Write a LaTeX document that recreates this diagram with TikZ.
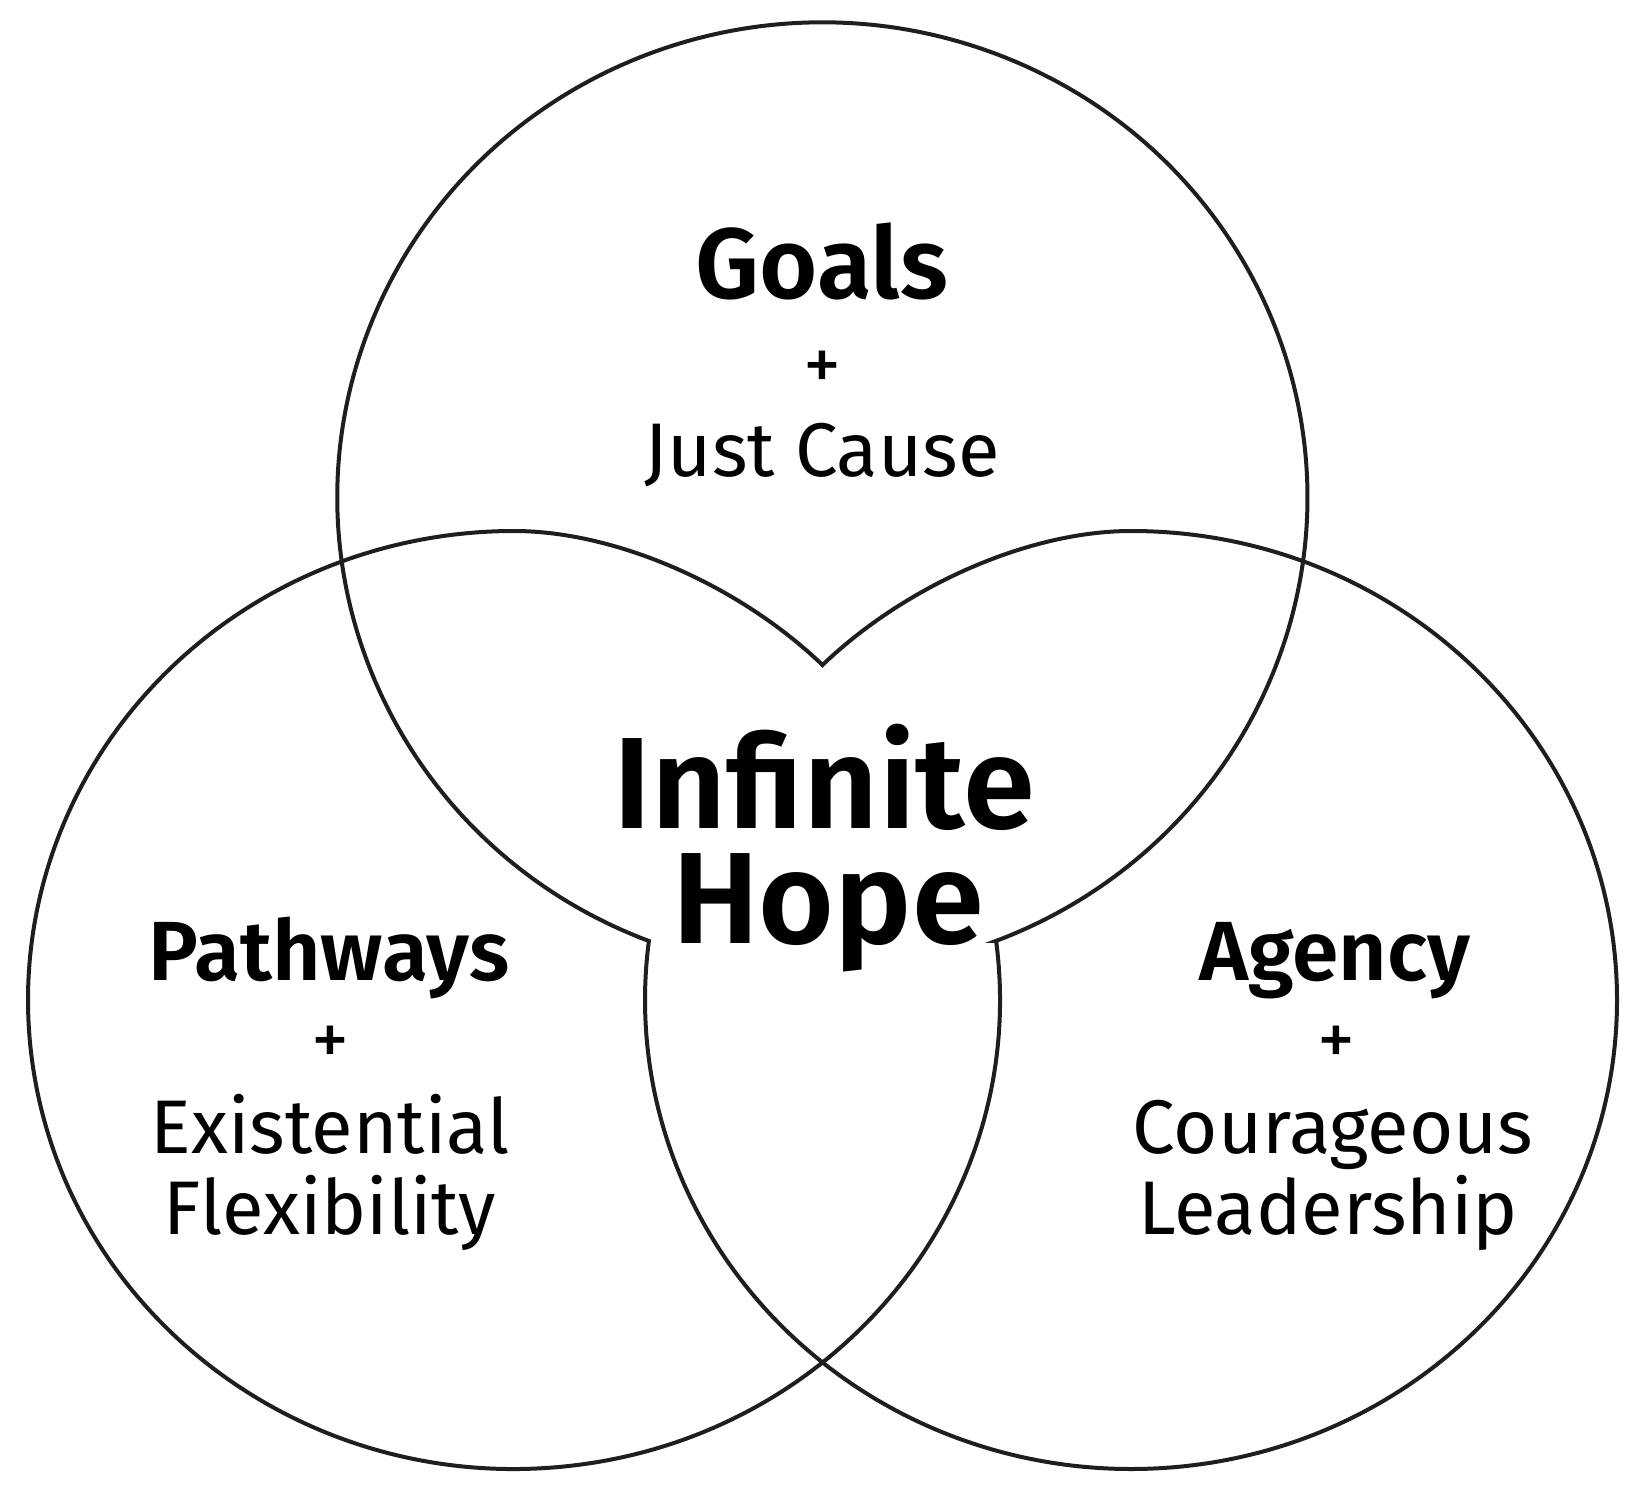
\documentclass[tikz,border=0pt]{standalone}
\usepackage{fontspec}
\setmainfont{Fira Sans}[BoldFont={Fira Sans SemiBold}]
\definecolor{ink}{HTML}{1E1E1E}
\begin{document}
\begin{tikzpicture}[x=0.5pt,y=-0.5pt,
  ring/.style={draw=ink, line width=2pt, line join=miter},
  txt/.style={inner sep=0pt, anchor=base, text=black},
  head/.style={txt, font=\bfseries\fontsize{42}{42}\selectfont},
  goalhead/.style={txt, font=\bfseries\fontsize{50}{50}\selectfont},
  big/.style={txt, font=\bfseries\fontsize{65}{65}\selectfont},
  body/.style={txt, font=\fontsize{38}{38}\selectfont}]
\useasboundingbox (0,0) rectangle (1643,1497);
% three overlapping circles, with the lines inside the common region left out
\coordinate (cT) at (822.5,497.7);
\coordinate (cL) at (514,1000);
\coordinate (cR) at (1131,1000);
\coordinate (vtip) at (822.5,665);
\draw[ring] (cL) ++(-7.23:486 and 469)
  arc[start angle=-7.23, end angle=270, x radius=486, y radius=469]
  .. controls (615,531) and (738.6,584.6) .. (vtip)
  .. controls (906.4,584.6) and (1030,531) .. (1131,531)
  arc[start angle=270, end angle=547.23, x radius=486, y radius=469]
  arc[start angle=110.96, end angle=429.04, x radius=485, y radius=475]
  -- cycle;
% texts
\node[goalhead] (goals) at (822,299) {Goals};
\node[body] (plusT) at (822,391) {+};
\node[body] (cause) at (822,477) {Just Cause};
\node[big] (infinite) at (824,828) {Infinite};
\node[big] (hope) at (828,943) {Hope};
\node[head] (pathways) at (329,980) {Pathways};
\node[body] (plusL) at (330,1065) {+};
\node[body] (exist) at (330,1153) {Existential};
\node[body] (flex) at (330,1234) {Flexibility};
\node[head] (agency) at (1335,980) {Agency};
\node[body] (plusR) at (1336,1065) {+};
\node[body] (courage) at (1333,1153) {Courageous};
\node[body] (lead) at (1328,1234) {Leadership};
\end{tikzpicture}
\end{document}
